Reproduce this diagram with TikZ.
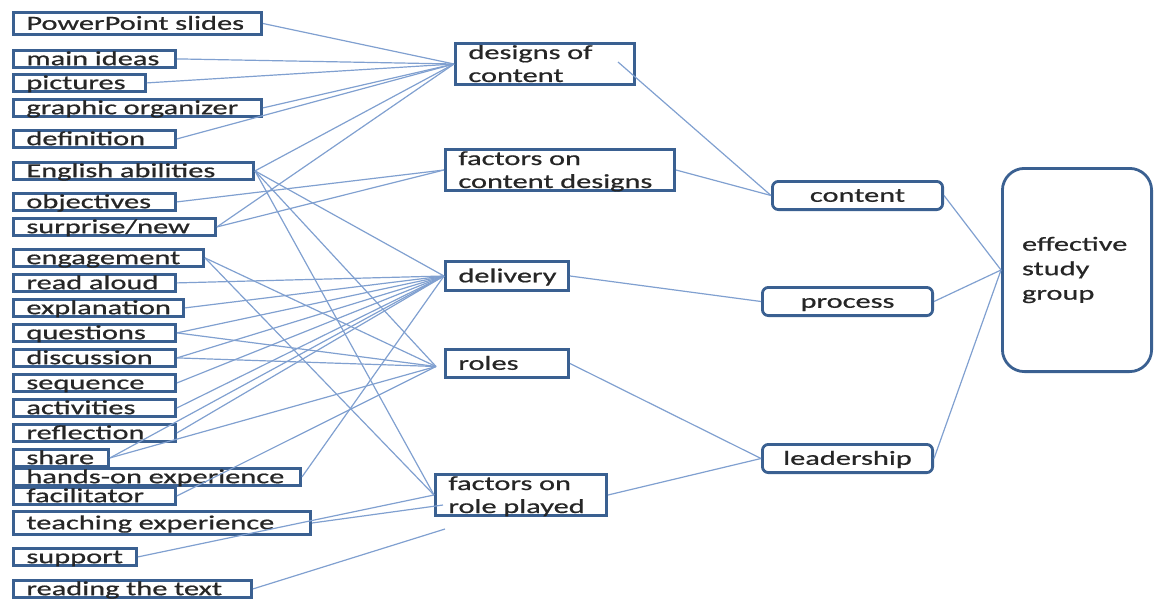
\documentclass[tikz,border=0pt]{standalone}
\usepackage{fontspec}
\setmainfont{Carlito}[FakeStretch=1.52,WordSpace=0.6,FakeBold=0.7]
\usetikzlibrary{calc}

\definecolor{boxblue}{RGB}{58,96,145}
\definecolor{wireblue}{RGB}{128,160,208}

\tikzset{
  leaf/.style={draw=boxblue, line width=1.4pt, anchor=north west, inner xsep=6.5pt, inner ysep=0pt,
    text height=7.4pt, text depth=1.1pt, align=left, text width=#1},
  mid/.style={draw=boxblue, line width=1.4pt, anchor=north west, inner xsep=6.5pt, inner ysep=0pt,
    align=left, text width=#1},
  twoline/.style={text height=7.8pt, text depth=12.8pt},
  aspect/.style={draw=boxblue, line width=1.4pt, rounded corners=3pt, anchor=north west, inner sep=0pt,
    text height=7.4pt, text depth=1.1pt, minimum width=85.1pt, minimum height=14.1pt},
  wire/.style={draw=wireblue, line width=0.6pt},
}

\begin{document}
\begin{tikzpicture}[x=5pt, y=-5pt, every node/.append style={font=\fontsize{10}{11.5}\selectfont, text=black!85}]
        \useasboundingbox (0,0) rectangle (115.4,59.9);

        % items
        \node[leaf=111.1pt, minimum height=11.1pt] (pps) at (1.2,1.1) {PowerPoint slides};
        \node[leaf=68.1pt] (mi) at (1.2,4.9) {main ideas};
        \node[leaf=53.1pt] (pic) at (1.2,7.3) {pictures};
        \node[leaf=111.1pt] (go) at (1.2,9.8) {graphic organizer};
        \node[leaf=68.1pt] (defn) at (1.2,12.9) {definition};
        \node[leaf=107.1pt] (ea) at (1.2,16.1) {English abilities};
        \node[leaf=68.1pt] (obj) at (1.2,19.2) {objectives};
        \node[leaf=88.1pt] (sn) at (1.2,21.7) {surprise/new};
        \node[leaf=82.1pt] (eng) at (1.2,24.8) {engagement};
        \node[leaf=68.1pt] (ra) at (1.2,27.3) {read aloud};
        \node[leaf=72.1pt] (expl) at (1.2,29.8) {explanation};
        \node[leaf=68.1pt] (qu) at (1.2,32.3) {questions};
        \node[leaf=68.1pt] (disc) at (1.2,34.8) {discussion};
        \node[leaf=68.1pt] (seq) at (1.2,37.3) {sequence};
        \node[leaf=68.1pt] (act) at (1.2,39.8) {activities};
        \node[leaf=68.1pt] (refl) at (1.2,42.3) {reflection};
        \node[leaf=34.6pt] (share) at (1.2,44.8) {share};
        \node[leaf=130.6pt] (hoe) at (1.2,46.7) {hands-on experience};
        \node[leaf=68.1pt] (fac) at (1.2,48.6) {facilitator};
        \node[leaf=135.6pt, minimum height=11.6pt] (te) at (1.2,51.0) {teaching experience};
        \node[leaf=48.6pt] (sup) at (1.2,54.7) {support};
        \node[leaf=106.1pt] (rtt) at (1.2,57.9) {reading the text};

        % groups
        \node[mid=76.6pt, twoline] (dc) at (45.4,4.2) {designs of\\content};
        \node[mid=101.6pt, twoline] (fcd) at (44.4,14.8) {factors on\\content designs};
        \node[mid=48.6pt, minimum height=14.6pt, text height=7.4pt, text depth=1.1pt] (del) at (44.4,26.0) {delivery};
        \node[mid=48.6pt, minimum height=14.1pt, text height=7.4pt, text depth=1.1pt] (roles) at (44.4,34.8) {roles};
        \node[mid=72.6pt, twoline] (frp) at (43.4,47.3) {factors on\\role played};

        % aspects
        \node[aspect] (con) at (77.1,18.0) {content};
        \node[aspect] (proc) at (76.1,28.6) {process};
        \node[aspect] (lead) at (76.1,44.3) {leadership};
        \node[draw=boxblue, line width=1.4pt, rounded corners=11pt, anchor=north west, inner xsep=9.8pt,
          text width=55pt, minimum height=101.6pt, align=left,
          font=\fontsize{10}{12.25}\selectfont] (esg) at (100.1,16.7) {effective\\study\\group};

        % free ends
        \coordinate (dcin) at ($(dc.east)+(-1.8,-0.2)$);
        \coordinate (rolesin) at ($(roles.west)+(-0.8,0.3)$);
        \coordinate (frpin) at ($(frp.west)+(0.9,1.0)$);
        \coordinate (rttend) at (44.5,52.9);

        % links
        \draw[wire] (pps.east) -- (dc.west);
        \draw[wire] (mi.east) -- (dc.west);
        \draw[wire] (pic.east) -- (dc.west);
        \draw[wire] (go.east) -- (dc.west);
        \draw[wire] (defn.east) -- (dc.west);
        \draw[wire] (ea.east) -- (dc.west);
        \draw[wire] (sn.east) -- (dc.west);
        \draw[wire] (obj.east) -- (fcd.west);
        \draw[wire] (sn.east) -- (fcd.west);
        \draw[wire] (ea.east) -- (del.west);
        \draw[wire] (ra.east) -- (del.west);
        \draw[wire] (expl.east) -- (del.west);
        \draw[wire] (qu.east) -- (del.west);
        \draw[wire] (disc.east) -- (del.west);
        \draw[wire] (seq.east) -- (del.west);
        \draw[wire] (act.east) -- (del.west);
        \draw[wire] (refl.east) -- (del.west);
        \draw[wire] (share.east) -- (del.west);
        \draw[wire] (hoe.east) -- (del.west);
        \draw[wire] (eng.east) -- (rolesin);
        \draw[wire] (ea.east) -- (rolesin);
        \draw[wire] (qu.east) -- (rolesin);
        \draw[wire] (disc.east) -- (rolesin);
        \draw[wire] (share.east) -- (rolesin);
        \draw[wire] (fac.east) -- (rolesin);
        \draw[wire] (ea.east) -- (frp.west);
        \draw[wire] (eng.east) -- (frp.west);
        \draw[wire] (sup.east) -- (frp.west);
        \draw[wire] (te.east) -- (frpin);
        \draw[wire] (rtt.east) -- (rttend);
        \draw[wire] (dcin) -- (con.west);
        \draw[wire] (fcd.east) -- (con.west);
        \draw[wire] (del.east) -- (proc.west);
        \draw[wire] (roles.east) -- (lead.west);
        \draw[wire] (frp.east) -- (lead.west);
        \draw[wire] (con.east) -- (esg.west);
        \draw[wire] (proc.east) -- (esg.west);
        \draw[wire] (lead.east) -- (esg.west);
    \end{tikzpicture}
\end{document}
